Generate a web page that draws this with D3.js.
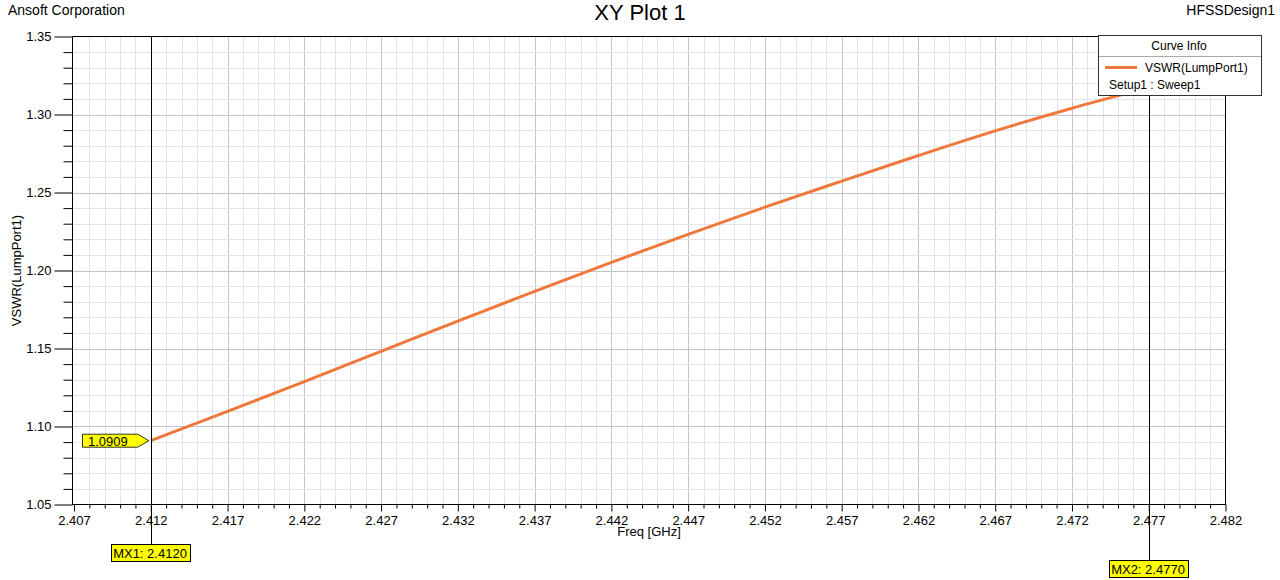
<!DOCTYPE html>
<html><head><meta charset="utf-8">
<script src="https://cdn.jsdelivr.net/npm/d3@7"></script>
<style>
body{margin:0;background:#fff;}
svg{display:block;font-family:"Liberation Sans",Arial,sans-serif;}
</style></head><body>
<svg id="chart" width="1280" height="580"></svg>
<script>
// ---- data ----
const freqGHz   = [2.412, 2.417, 2.422, 2.427, 2.432, 2.437, 2.442, 2.447, 2.452, 2.457, 2.462, 2.467, 2.472, 2.477, 2.482];
const vswrValues = [1.0909, 1.1097, 1.1288, 1.1482, 1.1676, 1.1866, 1.2052, 1.2232, 1.2406, 1.2573, 1.2737, 1.2895, 1.3040, 1.3172, 1.3300];
const xTickValues = [2.407, 2.412, 2.417, 2.422, 2.427, 2.432, 2.437, 2.442, 2.447, 2.452, 2.457, 2.462, 2.467, 2.472, 2.477, 2.482];
const yTickValues = [1.05, 1.10, 1.15, 1.20, 1.25, 1.30, 1.35];
const markerFreqs = [2.412, 2.477];
const markerNames = ["MX1", "MX2"];
const markerYValue = 1.0909;
const xDomain = [2.4069, 2.482];
const yDomain = [1.05, 1.35];
const seriesName = "VSWR(LumpPort1)";
const seriesSetup = "Setup1 : Sweep1";

// ---- layout ----
const L = 72.5, R = 1225.5, T = 36.5, B = 504.5;
const svg = d3.select("#chart");
const x = d3.scaleLinear().domain(xDomain).range([L, R]);
const y = d3.scaleLinear().domain(yDomain).range([B, T]);
const px = v => Math.round(x(v)) + 0.5;
const py = v => Math.round(y(v)) + 0.5;

const xMinor = d3.range(0, 76).map(i => +(2.407 + i * 0.001).toFixed(3));
const yMinor = d3.range(0, 31).map(i => +(1.05 + i * 0.01).toFixed(2));
const isXMajor = v => xTickValues.some(t => Math.abs(t - v) < 1e-6);
const isYMajor = v => yTickValues.some(t => Math.abs(t - v) < 1e-6);

// texts
svg.append("text").attr("x", 8).attr("y", 15).attr("font-size", 14).attr("fill", "#000").text("Ansoft Corporation");
svg.append("text").attr("x", 640).attr("y", 20).attr("text-anchor", "middle").attr("font-size", 22).attr("fill", "#000").text("XY Plot 1");
svg.append("text").attr("x", 1275).attr("y", 15).attr("text-anchor", "end").attr("font-size", 14).attr("fill", "#000").text("HFSSDesign1");

// grid
const grid = svg.append("g");
grid.selectAll(".vg").data(xMinor.filter(v => v > xDomain[0] + 0.0003 && v < xDomain[1] - 0.0003)).join("line")
  .attr("x1", d => px(d)).attr("x2", d => px(d)).attr("y1", T).attr("y2", B)
  .attr("stroke", d => isXMajor(d) ? "#c4c4c4" : "#e4e4e4").attr("stroke-width", 1);
grid.selectAll(".hg").data(yMinor.filter(v => v > yDomain[0] + 0.001 && v < yDomain[1] - 0.001)).join("line")
  .attr("y1", d => py(d)).attr("y2", d => py(d)).attr("x1", L).attr("x2", R)
  .attr("stroke", d => isYMajor(d) ? "#c4c4c4" : "#e4e4e4").attr("stroke-width", 1);

// curve
const line = d3.line().x((d, i) => x(freqGHz[i])).y(d => y(d)).curve(d3.curveMonotoneX);
svg.append("path").datum(vswrValues).attr("d", line)
  .attr("fill", "none").attr("stroke", "#f0783c").attr("stroke-width", 3);

// axes: minor ticks
const xMinorAxis = d3.axisBottom(x).tickValues(xMinor.filter(v => !isXMajor(v))).tickSize(4).tickFormat("");
const xMajorAxis = d3.axisBottom(x).tickValues(xTickValues).tickSize(7).tickPadding(4).tickFormat(d3.format(".3f"));
const yMinorAxis = d3.axisLeft(y).tickValues(yMinor.filter(v => !isYMajor(v))).tickSize(9).tickFormat("");
const yMajorAxis = d3.axisLeft(y).tickValues(yTickValues).tickSize(18).tickPadding(3).tickFormat(d3.format(".2f"));

function styleAxis(g) {
  g.select(".domain").remove();
  g.selectAll("line").attr("stroke", "#000");
  g.selectAll("text").attr("font-size", 13).attr("fill", "#000").attr("font-family", "Liberation Sans, Arial, sans-serif");
}
svg.append("g").attr("transform", `translate(0,${B})`).call(xMinorAxis).call(styleAxis);
svg.append("g").attr("transform", `translate(0,${B})`).call(xMajorAxis).call(styleAxis);
svg.append("g").attr("transform", `translate(${L},0)`).call(yMinorAxis).call(styleAxis);
svg.append("g").attr("transform", `translate(${L},0)`).call(yMajorAxis).call(styleAxis);

// frame
svg.append("rect").attr("x", L).attr("y", T).attr("width", R - L).attr("height", B - T)
  .attr("fill", "none").attr("stroke", "#000").attr("stroke-width", 1);

// axis titles
svg.append("text").attr("x", (L + R) / 2).attr("y", 536).attr("text-anchor", "middle").attr("font-size", 13).text("Freq [GHz]");
svg.append("text").attr("transform", `translate(21,${(T + B) / 2}) rotate(-90)`).attr("text-anchor", "middle").attr("font-size", 13).text("VSWR(LumpPort1)");

// markers
const labelTops = [544, 560];
markerFreqs.forEach((f, i) => {
  const mx = px(f);
  svg.append("line").attr("x1", mx).attr("x2", mx).attr("y1", T).attr("y2", labelTops[i])
    .attr("stroke", "#000").attr("stroke-width", 1);
  const txt = `${markerNames[i]}: ${f.toFixed(4)}`;
  svg.append("rect").attr("x", mx - 40).attr("y", labelTops[i] + 0.5).attr("width", 79).attr("height", 17)
    .attr("fill", "#ffff00").attr("stroke", "#000").attr("stroke-width", 1);
  svg.append("text").attr("x", mx - 1.5).attr("y", labelTops[i] + 13.5).attr("text-anchor", "middle")
    .attr("font-size", 13).attr("fill", "#000").text(txt);
});

// y marker label
const my = y(markerYValue);
const tip = x(markerFreqs[0]) - 2;
svg.append("path")
  .attr("d", `M82.5,${my - 6.5} L${tip - 11},${my - 6.5} L${tip},${my} L${tip - 11},${my + 6.5} L82.5,${my + 6.5} Z`)
  .attr("fill", "#ffff00").attr("stroke", "#000").attr("stroke-width", 0.8);
svg.append("text").attr("x", 88).attr("y", my + 5).attr("font-size", 13).attr("fill", "#000").text(markerYValue.toFixed(4));

// legend
const lg = svg.append("g");
lg.append("rect").attr("x", 1098.5).attr("y", 35.5).attr("width", 163).attr("height", 60)
  .attr("fill", "#fff").attr("stroke", "#333").attr("stroke-width", 1);
lg.append("line").attr("x1", 1099).attr("x2", 1261).attr("y1", 56.5).attr("y2", 56.5).attr("stroke", "#aaa");
lg.append("text").attr("x", 1179).attr("y", 50).attr("text-anchor", "middle").attr("font-size", 12).text("Curve Info");
lg.append("line").attr("x1", 1105).attr("x2", 1137).attr("y1", 67.5).attr("y2", 67.5).attr("stroke", "#f0783c").attr("stroke-width", 3);
lg.append("text").attr("x", 1145).attr("y", 72).attr("font-size", 12).text(seriesName);
lg.append("text").attr("x", 1109).attr("y", 89).attr("font-size", 12).text(seriesSetup);
</script>
</body></html>
